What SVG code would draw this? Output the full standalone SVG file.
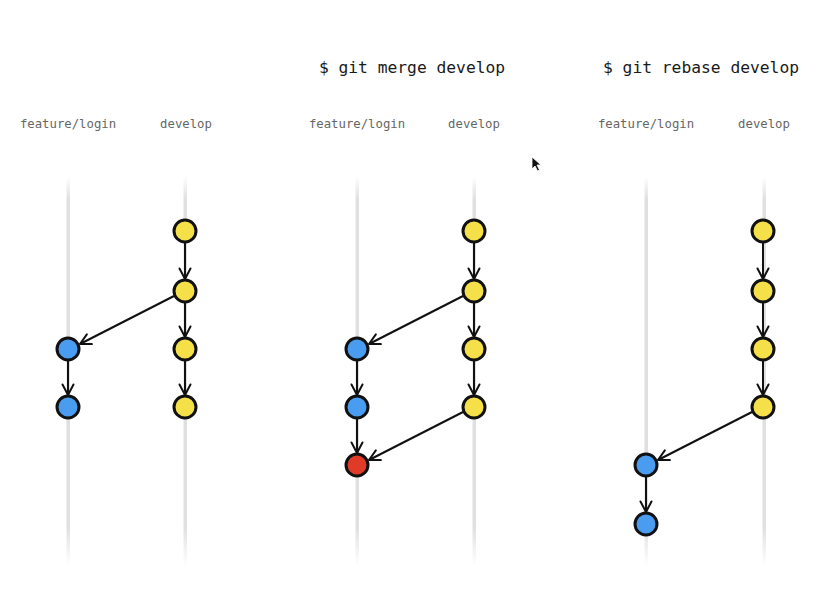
<svg xmlns="http://www.w3.org/2000/svg" width="839" height="589" viewBox="0 0 839 589">
<defs>
<linearGradient id="laneGrad" x1="0" y1="0" x2="0" y2="1">
<stop offset="0" stop-color="#e0e0e0" stop-opacity="0"/>
<stop offset="0.06" stop-color="#e0e0e0" stop-opacity="1"/>
<stop offset="0.9" stop-color="#e0e0e0" stop-opacity="1"/>
<stop offset="1" stop-color="#e0e0e0" stop-opacity="0"/>
</linearGradient>
<marker id="arr" viewBox="0 0 14 14" refX="12" refY="7" markerWidth="14" markerHeight="14" markerUnits="userSpaceOnUse" orient="auto">
<path d="M1.5,1.5 L12,7 L1.5,12.5" fill="none" stroke="#111" stroke-width="2" stroke-linecap="round" stroke-linejoin="round"/>
</marker>
</defs>
<style>
.title{font-family:"DejaVu Sans Mono","Liberation Mono",monospace;font-size:16.3px;fill:#1a1a1a;text-anchor:middle}
.lbl{font-family:"DejaVu Sans Mono","Liberation Mono",monospace;font-size:12.3px;fill:#666;text-anchor:middle}
.lane{fill:url(#laneGrad)}
.node{stroke:#111;stroke-width:3}
.y{fill:#f6e04a}
.b{fill:#4a9cf0}
.r{fill:#df3b28}
.c{stroke:#111;stroke-width:2;fill:none;marker-end:url(#arr)}
</style>
<rect width="839" height="589" fill="#ffffff"/>
<g id="titles">
<text class="title" x="412" y="73">$ git merge develop</text>
<text class="title" x="701" y="73">$ git rebase develop</text>
</g>
<g id="labels">
<text class="lbl" x="68" y="128">feature/login</text>
<text class="lbl" x="186" y="128">develop</text>
<text class="lbl" x="357" y="128">feature/login</text>
<text class="lbl" x="474" y="128">develop</text>
<text class="lbl" x="646" y="128">feature/login</text>
<text class="lbl" x="764" y="128">develop</text>
</g>
<g id="lanes">
<rect class="lane" x="66.5" y="176" width="3.5" height="390"/>
<rect class="lane" x="183.5" y="176" width="3.5" height="390"/>
<rect class="lane" x="355.5" y="176" width="3.5" height="390"/>
<rect class="lane" x="472.5" y="176" width="3.5" height="390"/>
<rect class="lane" x="644.5" y="176" width="3.5" height="390"/>
<rect class="lane" x="762.5" y="176" width="3.5" height="390"/>
</g>
<g id="connectors">
<line class="c" x1="185" y1="243" x2="185" y2="279"/>
<line class="c" x1="185" y1="303" x2="185" y2="337"/>
<line class="c" x1="185" y1="361" x2="185" y2="395"/>
<line class="c" x1="68" y1="361" x2="68" y2="395"/>
<line class="c" x1="174" y1="296" x2="80" y2="344"/>
<line class="c" x1="474" y1="243" x2="474" y2="279"/>
<line class="c" x1="474" y1="303" x2="474" y2="337"/>
<line class="c" x1="474" y1="361" x2="474" y2="395"/>
<line class="c" x1="357" y1="361" x2="357" y2="395"/>
<line class="c" x1="357" y1="419" x2="357" y2="453"/>
<line class="c" x1="463" y1="296" x2="369" y2="344"/>
<line class="c" x1="463" y1="412" x2="369" y2="460"/>
<line class="c" x1="763" y1="243" x2="763" y2="279"/>
<line class="c" x1="763" y1="303" x2="763" y2="337"/>
<line class="c" x1="763" y1="361" x2="763" y2="395"/>
<line class="c" x1="646" y1="477" x2="646" y2="512"/>
<line class="c" x1="752" y1="412" x2="658" y2="460"/>
</g>
<g id="p1-d1"><circle class="node y" cx="185" cy="231" r="11"/></g>
<g id="p1-d2"><circle class="node y" cx="185" cy="291" r="11"/></g>
<g id="p1-d3"><circle class="node y" cx="185" cy="349" r="11"/></g>
<g id="p1-d4"><circle class="node y" cx="185" cy="407" r="11"/></g>
<g id="p1-f1"><circle class="node b" cx="68" cy="349" r="11"/></g>
<g id="p1-f2"><circle class="node b" cx="68" cy="407" r="11"/></g>
<g id="p2-d1"><circle class="node y" cx="474" cy="231" r="11"/></g>
<g id="p2-d2"><circle class="node y" cx="474" cy="291" r="11"/></g>
<g id="p2-d3"><circle class="node y" cx="474" cy="349" r="11"/></g>
<g id="p2-d4"><circle class="node y" cx="474" cy="407" r="11"/></g>
<g id="p2-f1"><circle class="node b" cx="357" cy="349" r="11"/></g>
<g id="p2-f2"><circle class="node b" cx="357" cy="407" r="11"/></g>
<g id="p2-m"><circle class="node r" cx="357" cy="465" r="11"/></g>
<g id="p3-d1"><circle class="node y" cx="763" cy="231" r="11"/></g>
<g id="p3-d2"><circle class="node y" cx="763" cy="291" r="11"/></g>
<g id="p3-d3"><circle class="node y" cx="763" cy="349" r="11"/></g>
<g id="p3-d4"><circle class="node y" cx="763" cy="407" r="11"/></g>
<g id="p3-f1"><circle class="node b" cx="646" cy="465" r="11"/></g>
<g id="p3-f2"><circle class="node b" cx="646" cy="524" r="11"/></g>
<g id="cursor">
<path d="M532,157 L532,169 L535,166 L537.5,171 L539.5,170 L537,165 L541,165 Z" fill="#111" stroke="#fff" stroke-width="0.8"/>
</g>
</svg>
